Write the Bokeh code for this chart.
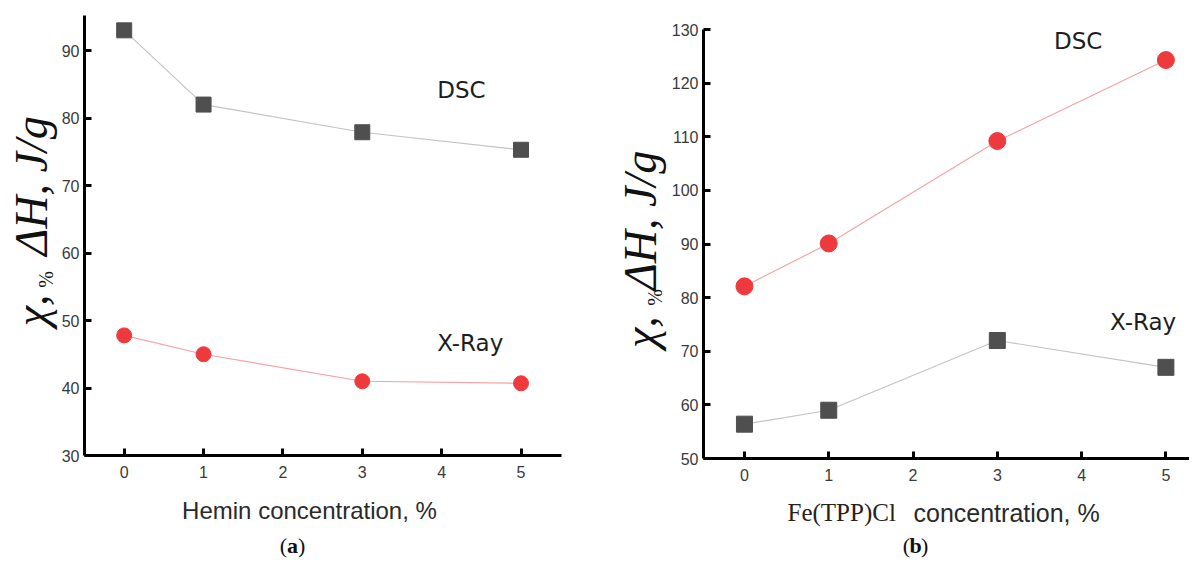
import math
from bokeh.plotting import figure
from bokeh.layouts import row, column
from bokeh.models import FixedTicker, Label
from bokeh.core.properties import value
from bokeh.embed import file_html
from bokeh.resources import INLINE

# ---------------- data ----------------
conc = [0, 1, 3, 5]
hemin_dsc = [93.0, 82.0, 77.9, 75.3]
hemin_xray = [47.8, 45.0, 41.0, 40.7]
fetpp_dsc = [82.1, 90.1, 109.2, 124.3]
fetpp_xray = [56.4, 59.0, 72.0, 67.0]
x_ticks = [0, 1, 2, 3, 4, 5]
left_y_ticks = [30, 40, 50, 60, 70, 80, 90]
right_y_ticks = [50, 60, 70, 80, 90, 100, 110, 120, 130]
left_xlabel = "Hemin concentration, %"
right_xlabel_a = "Fe(TPP)Cl"
right_xlabel_b = "concentration, %"
ylabel_a = "χ,"
ylabel_b = "%"
ylabel_c = "ΔH, J/g"

SQ_COLOR = "#4f4f4f"
RED = "#ee3a3d"
GRAY_LINE = "#c4c4c4"
PINK_LINE = "#f5a3a6"
SANS = "Liberation Sans"
SERIF = "Liberation Serif"
MARK = "DejaVu Sans"


def style(p, yticks):
    p.outline_line_color = None
    p.xgrid.visible = False
    p.ygrid.visible = False
    for ax in (p.xaxis[0], p.yaxis[0]):
        ax.axis_line_width = 3
        ax.axis_line_color = "black"
        ax.major_tick_line_width = 3
        ax.major_tick_line_color = "black"
        ax.major_tick_in = 7
        ax.major_tick_out = 0
        ax.minor_tick_line_color = None
        ax.major_label_text_font = SANS
        ax.major_label_text_font_size = "16px"
        ax.major_label_text_color = "#3a3a3a"
    p.xaxis[0].ticker = FixedTicker(ticks=x_ticks)
    p.yaxis[0].ticker = FixedTicker(ticks=yticks)
    p.xaxis[0].major_label_standoff = 10
    p.yaxis[0].major_label_standoff = 5


def blank(w, h):
    f = figure(width=w, height=h, x_range=(0, w), y_range=(0, h),
               x_axis_type=None, y_axis_type=None, output_backend="svg",
               toolbar_location=None, min_border=0)
    f.grid.visible = False
    f.outline_line_color = None
    return f


def ylabel_fig(w, h, xm, xs, ya, yb, yc):
    # rotated pieces, each placed by its centre
    f = blank(w, h)
    common = dict(angle=math.pi / 2, text_align="center",
                  text_baseline="middle", text_font=value(SERIF),
                  text_color="#111111")
    f.text(x=[xm], y=[ya], text=[ylabel_a], text_font_size="46px",
           text_font_style="italic", **common)
    f.text(x=[xs], y=[yb], text=[ylabel_b], text_font_size="20px", **common)
    f.text(x=[xm], y=[yc], text=[ylabel_c], text_font_size="46px",
           text_font_style="italic", **common)
    return f


def panel_tag(f, cx, cy, letter):
    kw = dict(text_baseline="middle", text_font=value(SERIF),
              text_font_size="22px", text_color="#111111")
    f.text(x=[cx - 5.5], y=[cy], text=["("], text_align="right", **kw)
    f.text(x=[cx], y=[cy], text=[letter], text_align="center",
           text_font_style="bold", **kw)
    f.text(x=[cx + 5.5], y=[cy], text=[")"], text_align="left", **kw)


def tag(p, x, y, t):
    p.add_layout(Label(x=x, y=y, text=t, text_align="center",
                       text_baseline="middle", text_font=MARK,
                       text_font_size="23px", text_color="#1e1e1e"))


TOP_H = 485
BOT_H = 73

# ---------------- left panel ----------------
pa = figure(width=540, height=TOP_H, x_range=(-0.5, 5.51), y_range=(30, 95.2),
            output_backend="svg", toolbar_location=None,
            min_border_left=23, min_border_right=37, min_border_top=15,
            min_border_bottom=30)
style(pa, left_y_ticks)
pa.line(conc, hemin_dsc, line_color=GRAY_LINE, line_width=1.2)
pa.scatter(conc, hemin_dsc, marker="square", size=15, fill_color=SQ_COLOR,
           line_color=SQ_COLOR)
pa.line(conc, hemin_xray, line_color=PINK_LINE, line_width=1.2)
pa.scatter(conc, hemin_xray, marker="circle", size=15, fill_color=RED,
           line_color=RED)
tag(pa, 4.25, 84.1, "DSC")
tag(pa, 4.36, 46.6, "X-Ray")

ya = ylabel_fig(58, TOP_H, 31, 45, TOP_H - 325, TOP_H - 291, TOP_H - 188)
xa = blank(598, BOT_H)
xa.text(x=[309], y=[48], text=[left_xlabel], text_align="center",
        text_baseline="middle", text_font=value(SANS), text_font_size="24px",
        text_color="#2a2a2a")
panel_tag(xa, 292, 13, "a")

# ---------------- right panel ----------------
pb = figure(width=521, height=TOP_H, x_range=(-0.486, 5.28), y_range=(50, 130),
            output_backend="svg", toolbar_location=None,
            min_border_left=34, min_border_right=0, min_border_top=29,
            min_border_bottom=27)
style(pb, right_y_ticks)
pb.line(conc, fetpp_dsc, line_color=PINK_LINE, line_width=1.2)
pb.scatter(conc, fetpp_dsc, marker="circle", size=17, fill_color=RED,
           line_color=RED)
pb.line(conc, fetpp_xray, line_color=GRAY_LINE, line_width=1.2)
pb.scatter(conc, fetpp_xray, marker="square", size=16, fill_color=SQ_COLOR,
           line_color=SQ_COLOR)
tag(pb, 3.96, 127.9, "DSC")
tag(pb, 4.73, 75.5, "X-Ray")

yb = ylabel_fig(70, TOP_H, 42, 56, TOP_H - 342, TOP_H - 303, TOP_H - 216)
xb = blank(591, BOT_H)
xb.text(x=[189], y=[46], text=[right_xlabel_a], text_align="left",
        text_baseline="middle", text_font=value(SERIF), text_font_size="25px",
        text_color="#2a2218")
xb.text(x=[315], y=[46], text=[right_xlabel_b], text_align="left",
        text_baseline="middle", text_font=value(SANS), text_font_size="25px",
        text_color="#2a2a2a")
panel_tag(xb, 317, 13, "b")

left_block = column(row(ya, pa, spacing=0), xa, spacing=0)
right_block = column(row(yb, pb, spacing=0), xb, spacing=0)
layout = row(left_block, right_block, spacing=0)
open("out.html", "w").write(file_html(layout, INLINE))
